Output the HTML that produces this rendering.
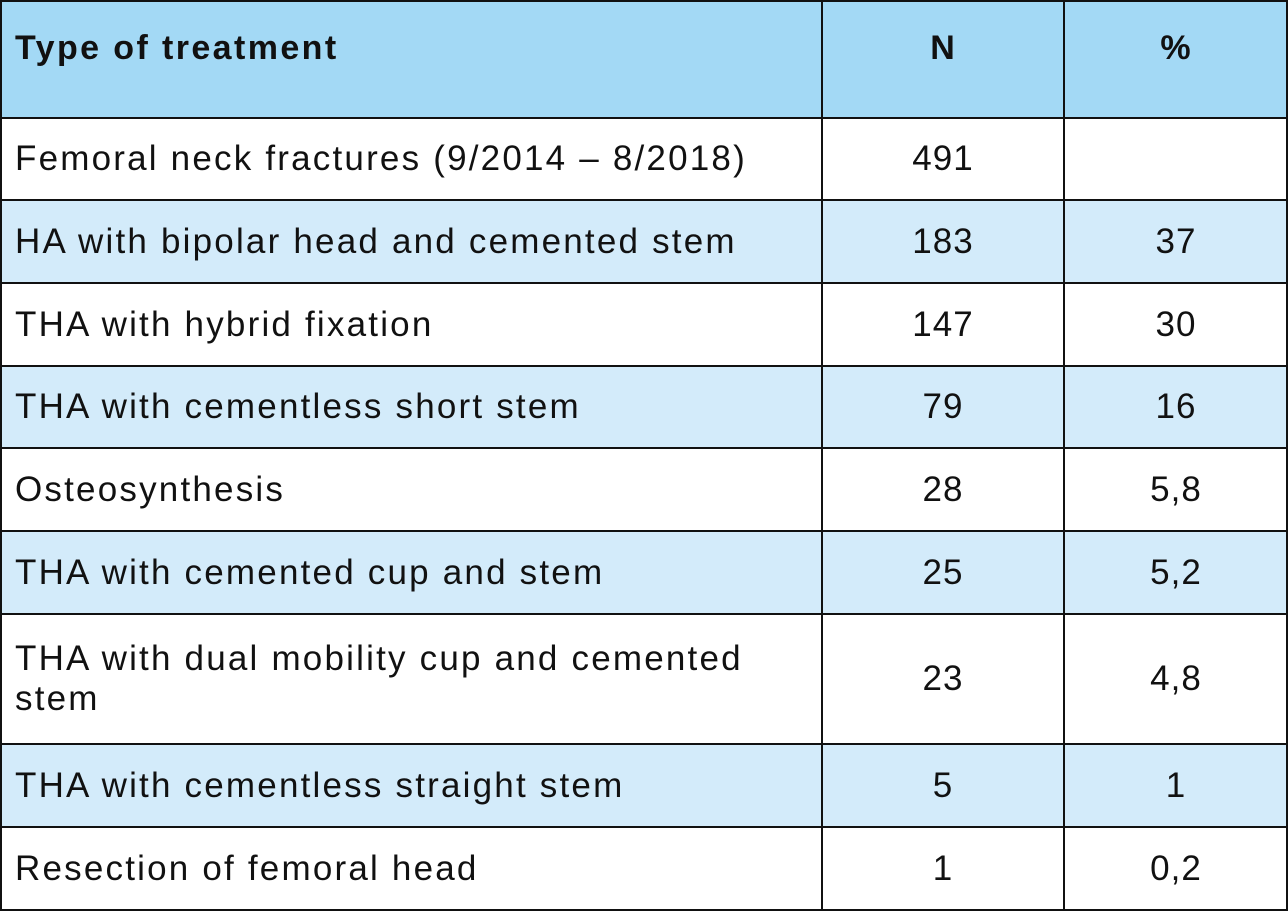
<!DOCTYPE html>
<html><head><style>
body{margin:0;width:1288px;height:911px;overflow:hidden;background:#fff;font-family:"Liberation Sans",sans-serif;}
.r{position:absolute;left:0;width:1288px;}
.c{position:absolute;top:0;bottom:0;display:flex;align-items:center;font-size:35px;color:#111;line-height:40px;}
.a{left:15px;width:790px;letter-spacing:2.2px;}
.b{left:822px;width:242px;justify-content:center;letter-spacing:1px;}
.d{left:1064px;width:224px;justify-content:center;letter-spacing:1px;}
.h .c{font-weight:bold;font-size:34px;align-items:flex-start;padding-top:28px;}
.h .a{letter-spacing:2.4px;}
.v{position:absolute;top:0;height:911px;width:2px;background:#111;}
.l{position:absolute;left:0;width:1288px;height:2px;background:#111;}
</style></head><body>
<div class="r h" style="top:0;height:118px;background:#a3d9f5"><div class="c a">Type of treatment</div><div class="c b">N</div><div class="c d">%</div></div>
<div class="r" style="top:118px;height:82px;background:#fff"><div class="c a">Femoral neck fractures (9/2014 – 8/2018)</div><div class="c b">491</div><div class="c d"></div></div>
<div class="r" style="top:200px;height:83px;background:#d3ebfa"><div class="c a">HA with bipolar head and cemented stem</div><div class="c b">183</div><div class="c d">37</div></div>
<div class="r" style="top:283px;height:83px;background:#fff"><div class="c a">THA with hybrid fixation</div><div class="c b">147</div><div class="c d">30</div></div>
<div class="r" style="top:366px;height:82px;background:#d3ebfa"><div class="c a">THA with cementless short stem</div><div class="c b">79</div><div class="c d">16</div></div>
<div class="r" style="top:448px;height:83px;background:#fff"><div class="c a">Osteosynthesis</div><div class="c b">28</div><div class="c d">5,8</div></div>
<div class="r" style="top:531px;height:83px;background:#d3ebfa"><div class="c a">THA with cemented cup and stem</div><div class="c b">25</div><div class="c d">5,2</div></div>
<div class="r" style="top:614px;height:130px;background:#fff"><div class="c a">THA with dual mobility cup and cemented<br>stem</div><div class="c b">23</div><div class="c d">4,8</div></div>
<div class="r" style="top:744px;height:83px;background:#d3ebfa"><div class="c a">THA with cementless straight stem</div><div class="c b">5</div><div class="c d">1</div></div>
<div class="r" style="top:827px;height:84px;background:#fff"><div class="c a">Resection of femoral head</div><div class="c b">1</div><div class="c d">0,2</div></div>
<div class="v" style="left:0"></div><div class="v" style="left:821px"></div><div class="v" style="left:1063px"></div><div class="v" style="left:1286px"></div>
<div class="l" style="top:0"></div><div class="l" style="top:117px"></div><div class="l" style="top:199px"></div><div class="l" style="top:282px"></div><div class="l" style="top:365px"></div><div class="l" style="top:447px"></div><div class="l" style="top:530px"></div><div class="l" style="top:613px"></div><div class="l" style="top:743px"></div><div class="l" style="top:826px"></div><div class="l" style="top:909px"></div>
</body></html>
